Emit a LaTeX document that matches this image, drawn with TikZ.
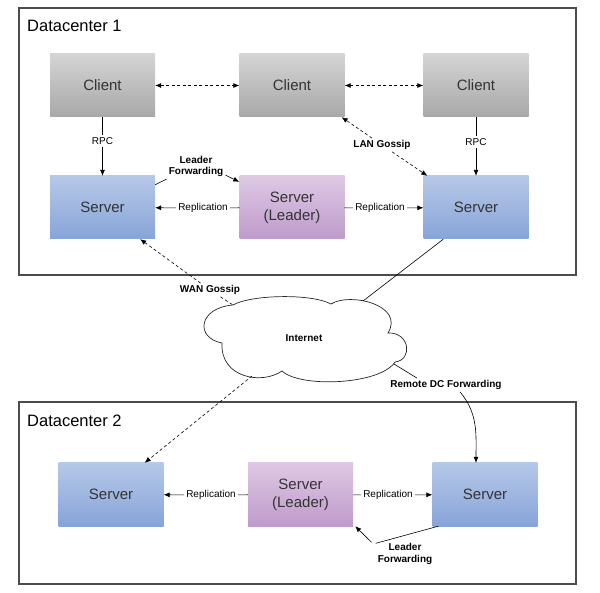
\documentclass[tikz,border=0pt]{standalone}
\usepackage{fontspec}
\setmainfont{Liberation Sans}
\usetikzlibrary{arrows.meta,calc}
\definecolor{txt}{HTML}{333333}
\definecolor{cltop}{HTML}{D4D4D4}
\definecolor{clbot}{HTML}{A8A8A8}
\definecolor{svtop}{HTML}{B6C8E8}
\definecolor{svbot}{HTML}{87A4D8}
\definecolor{ldtop}{HTML}{DEC8E4}
\definecolor{ldbot}{HTML}{BF9BCB}
\tikzset{
  box/.style={minimum width=105pt,minimum height=63pt,inner sep=0pt,align=center,
    font=\fontsize{15}{18}\selectfont,text=txt},
  client/.style={box,top color=cltop,bottom color=clbot},
  server/.style={box,top color=svtop,bottom color=svbot},
  leader/.style={box,top color=ldtop,bottom color=ldbot},
  lbl/.style={font=\fontsize{10}{11.5}\selectfont,inner sep=2pt,align=center},
  blbl/.style={lbl,font=\fontsize{10}{11.5}\selectfont\bfseries},
  dc/.style={draw=black!70,line width=1.1pt},
  dctitle/.style={font=\fontsize{16.5}{20}\selectfont,anchor=west,inner sep=0pt},
  arr/.style={-{Latex[length=6pt,width=5pt]}},
  dsh/.style={dash pattern=on 3pt off 2.5pt},
  conn/.style={line width=0.6pt},
  cloudline/.style={draw=black!85,line width=0.7pt,fill=white},
}
\begin{document}
\begin{tikzpicture}[x=1pt,y=1pt]
\useasboundingbox (0,0) rectangle (600,-593);
% datacenter frames
\draw[dc] (19,-8) rectangle (576,-275);
\node[dctitle] (t1) at (27,-26) {Datacenter 1};
\draw[dc] (19,-402) rectangle (576,-584);
\node[dctitle] (t2) at (27,-421) {Datacenter 2};
% DC1 nodes
\node[client] (c1) at (102.5,-85.5) {Client};
\node[client] (c2) at (292,-85.5) {Client};
\node[client] (c3) at (476,-85.5) {Client};
\node[server] (s1) at (102.5,-207.5) {Server};
\node[leader] (l1) at (292,-207.5) {Server\\(Leader)};
\node[server] (s3) at (476,-207.5) {Server};
% DC2 nodes
\node[server] (s4) at (111,-494.5) {Server};
\node[leader] (l2) at (300.5,-494.5) {Server\\(Leader)};
\node[server] (s6) at (485,-494.5) {Server};
% cloud outline
\path[cloudline] (233,-305)
  .. controls (250,-295) and (310,-293) .. (331,-304)
  .. controls (350,-292) and (405,-305) .. (388,-333)
  .. controls (410,-332) and (413,-360) .. (395,-362)
  .. controls (380,-385) and (300,-388) .. (282,-371)
  .. controls (262,-385) and (220,-378) .. (222,-343)
  .. controls (195,-338) and (198,-308) .. cycle;
\node[font=\fontsize{10}{12}\selectfont\bfseries] (inet) at (304,-338) {Internet};
\coordinate (cwan) at (233,-305);
\coordinate (cdc1) at (363,-301);
\coordinate (cdown) at (252,-376);
\coordinate (crdc) at (394,-364);
% labels
\node[lbl] (rpc1) at (102.5,-141) {RPC};
\node[lbl] (rpc2) at (476,-142) {RPC};
\node[blbl] (lan) at (382,-145) {LAN Gossip};
\node[blbl] (lf1) at (196,-166.5) {Leader\\Forwarding};
\node[lbl] (rep1) at (203,-208) {Replication};
\node[lbl] (rep2) at (380,-208) {Replication};
\node[blbl] (wan) at (210,-290) {WAN Gossip};
\node[blbl] (rdc) at (446,-385) {Remote DC Forwarding};
\node[lbl] (rep3) at (211,-495) {Replication};
\node[lbl] (rep4) at (388,-495) {Replication};
\node[blbl] (lf2) at (405,-554) {Leader\\Forwarding};
% client gossip
\draw[conn,dsh,{Latex[length=6pt,width=5pt]}-{Latex[length=6pt,width=5pt]}] (c1) -- (c2);
\draw[conn,dsh,{Latex[length=6pt,width=5pt]}-{Latex[length=6pt,width=5pt]}] (c2) -- (c3);
% RPC
\draw[conn] (c1) -- (rpc1);
\draw[conn,arr] (rpc1) -- (s1);
\draw[conn] (c3) -- (rpc2);
\draw[conn,arr] (rpc2) -- (s3);
% LAN gossip
\draw[conn,dsh,arr] (lan) -- ([xshift=-3pt]c2.south east);
\draw[conn,dsh,arr] (lan) -- ([xshift=4pt]s3.north west);
% leader forwarding DC1
\draw[conn] ([yshift=-9pt]s1.north east) -- (lf1.south west);
\draw[conn,arr] ([yshift=4pt]lf1.south east) -- ([yshift=-6pt]l1.north west);
% replication DC1
\draw[conn] (l1) -- (rep1);
\draw[conn,arr] (rep1) -- (s1);
\draw[conn] (l1) -- (rep2);
\draw[conn,arr] (rep2) -- (s3);
% WAN gossip
\draw[conn,dsh,arr] (wan) -- ([xshift=-15pt]s1.south east);
\draw[conn,dsh] (wan) -- (cwan);
\draw[conn,dsh,arr] (cdown) -- ([xshift=-19pt]s4.north east);
% internet links
\draw[conn] ([xshift=20pt]s3.south west) -- (cdc1);
\draw[conn] (crdc) -- ([xshift=-29pt]rdc.north);
\draw[conn,arr] ([xshift=14pt]rdc.south) to[out=-50,in=90] ([xshift=-9pt]s6.north);
% replication DC2
\draw[conn] (l2) -- (rep3);
\draw[conn,arr] (rep3) -- (s4);
\draw[conn] (l2) -- (rep4);
\draw[conn,arr] (rep4) -- (s6);
% leader forwarding DC2
\draw[conn] ([xshift=6pt]s6.south west) -- ([yshift=-2pt]lf2.north west);
\draw[conn,arr] ([xshift=-4pt,yshift=-1pt]lf2.north west) -- ([xshift=2pt]l2.south east);
\end{tikzpicture}
\end{document}
